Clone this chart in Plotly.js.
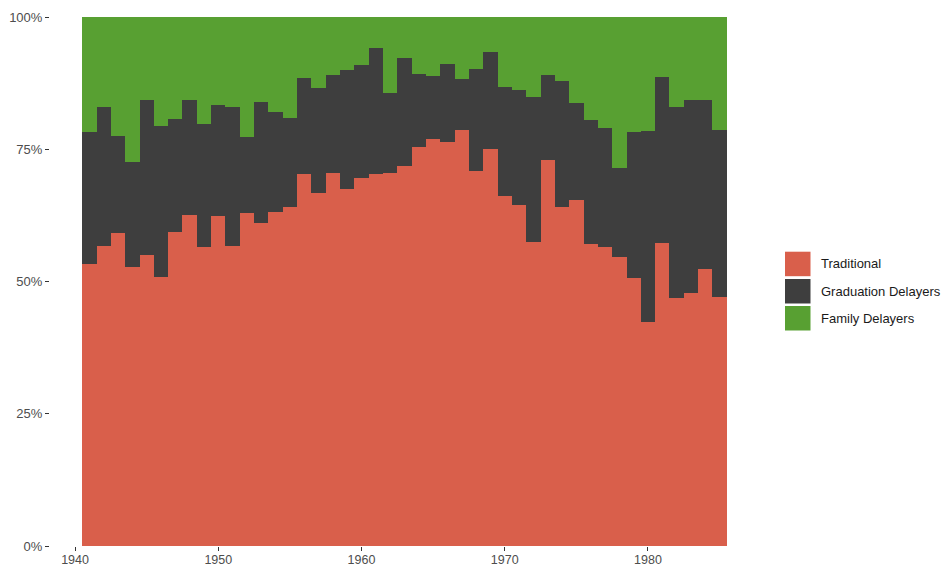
<!DOCTYPE html>
<html>
<head>
<meta charset="utf-8">
<script src="https://cdn.plot.ly/plotly-3.0.1.min.js"></script>
<style>
html,body{margin:0;padding:0;background:#fff;}
#chart{width:952px;height:568px;}
</style>
</head>
<body>
<div id="chart"></div>
<script>
var years = [1941,1942,1943,1944,1945,1946,1947,1948,1949,1950,
             1951,1952,1953,1954,1955,1956,1957,1958,1959,1960,
             1961,1962,1963,1964,1965,1966,1967,1968,1969,1970,
             1971,1972,1973,1974,1975,1976,1977,1978,1979,1980,
             1981,1982,1983,1984,1985];

var traditional = [53.4,56.7,59.2,52.7,55.0,50.8,59.4,62.6,56.5,62.3,
                   56.7,62.9,61.1,63.2,64.0,70.4,66.8,70.6,67.4,69.5,
                   70.4,70.6,71.8,75.5,76.9,76.4,78.6,70.8,75.0,66.2,
                   64.5,57.5,73.0,64.1,65.4,57.0,56.6,54.7,50.6,42.4,
                   57.2,46.8,47.9,52.3,47.0];

var graduationDelayers = [24.9,26.3,18.3,19.9,29.3,28.6,21.3,21.7,23.2,21.1,
                          26.3,14.5,22.9,18.9,17.0,18.0,19.7,18.4,22.5,21.5,
                          23.7,15.0,20.4,13.7,11.9,14.8,9.6,19.3,18.3,20.6,
                          21.7,27.4,16.0,23.8,18.4,23.5,22.5,16.7,27.7,36.1,
                          31.5,36.2,36.4,32.0,31.6];

var familyDelayers = [21.7,17.0,22.5,27.4,15.7,20.6,19.3,15.7,20.3,16.6,
                      17.0,22.6,16.0,17.9,19.0,11.6,13.5,11.0,10.1,9.0,
                      5.9,14.4,7.8,10.8,11.2,8.8,11.8,9.9,6.7,13.2,
                      13.8,15.1,11.0,12.1,16.2,19.5,20.9,28.6,21.7,21.5,
                      11.3,17.0,15.7,15.7,21.4];

var seriesNames = ["Traditional","Graduation Delayers","Family Delayers"];
var seriesColors = ["#D95F4B","#3E3E3E","#58A032"];
var xTickVals = [1940,1950,1960,1970,1980];
var yTickVals = [0,25,50,75,100];
var yTickText = ["0%","25%","50%","75%","100%"];

var seriesValues = [traditional, graduationDelayers, familyDelayers];
var traces = seriesValues.map(function(vals, i){
  return {
    type: "bar",
    x: years,
    y: vals,
    name: seriesNames[i],
    width: 1,
    marker: {color: seriesColors[i], line: {width: 0}},
    showlegend: false,
    hoverinfo: "x+y+name"
  };
});

// custom ggplot-style legend (keys + labels), in paper coordinates
var keyTops = [251.7, 279.0, 306.0];
var keyH = 24.5;
var plotL = 50, plotW = 709, plotB = 546, plotH = 529;
function px2x(p){ return (p - plotL) / plotW; }
function py2y(p){ return (plotB - p) / plotH; }
var shapes = [], annotations = [];
for (var i = 0; i < seriesNames.length; i++) {
  shapes.push({
    type: "rect", xref: "paper", yref: "paper",
    x0: px2x(785), x1: px2x(810.5),
    y0: py2y(keyTops[i] + keyH), y1: py2y(keyTops[i]),
    fillcolor: seriesColors[i], line: {width: 0}
  });
  annotations.push({
    xref: "paper", yref: "paper",
    x: px2x(819), y: py2y(keyTops[i] + keyH / 2),
    xanchor: "left", yanchor: "middle",
    text: seriesNames[i], showarrow: false,
    font: {family: "Liberation Sans, Arial, sans-serif", size: 13, color: "#1A1A1A"}
  });
}

var layout = {
  width: 952, height: 568,
  margin: {l: 50, r: 193, t: 17, b: 22, pad: 0},
  paper_bgcolor: "#FFFFFF",
  plot_bgcolor: "#FFFFFF",
  barmode: "stack",
  bargap: 0,
  showlegend: false,
  xaxis: {
    range: [1938.25, 1987.75],
    tickmode: "array", tickvals: xTickVals,
    ticks: "outside", ticklen: 4, tickwidth: 1, tickcolor: "#333333",
    ticklabelstandoff: -2,
    showgrid: false, zeroline: false, showline: false,
    tickfont: {family: "Liberation Sans, Arial, sans-serif", size: 12.5, color: "#4D4D4D"}
  },
  yaxis: {
    range: [0, 100],
    tickmode: "array", tickvals: yTickVals, ticktext: yTickText,
    ticks: "outside", ticklen: 4, tickwidth: 1, tickcolor: "#333333",
    showgrid: false, zeroline: false, showline: false,
    tickfont: {family: "Liberation Sans, Arial, sans-serif", size: 13, color: "#4D4D4D"}
  },
  shapes: shapes,
  annotations: annotations
};

Plotly.newPlot("chart", traces, layout, {displayModeBar: false, staticPlot: true});
</script>
</body>
</html>
